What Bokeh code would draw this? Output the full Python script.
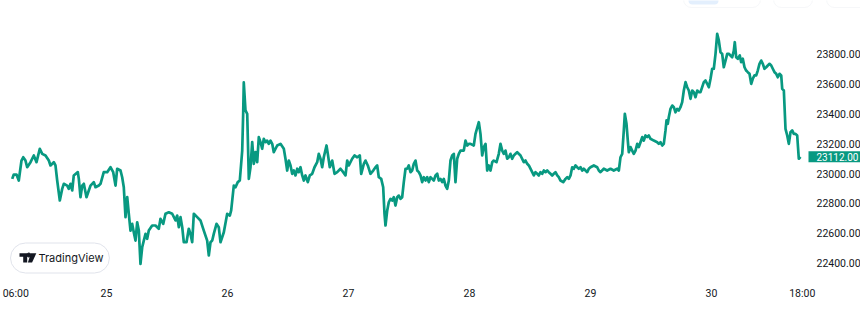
from bokeh.plotting import figure
from bokeh.models import Range1d, FixedTicker, PrintfTickFormatter, Label, BoxAnnotation
from bokeh.embed import file_html
from bokeh.resources import INLINE

# hours since 24 Jan 00:00
hours = [
5.30,5.61,6.15,6.60,7.14,7.48,7.93,8.27,8.93,9.58,
10.12,10.77,11.25,11.90,12.56,12.89,13.55,13.88,14.22,14.74,
15.21,15.53,16.20,16.52,16.86,17.20,17.51,18.31,18.51,18.84,
19.18,19.50,20.03,20.49,20.83,21.48,21.82,22.47,22.81,23.46,
24.14,24.79,25.33,25.79,26.12,26.78,27.11,27.43,27.77,28.11,
28.42,28.76,29.10,29.41,29.75,30.09,30.41,30.74,31.08,31.40,
31.74,32.07,32.39,33.06,33.72,34.37,34.71,35.25,35.70,36.36,
37.03,37.69,38.02,38.34,38.68,39.02,39.33,39.87,40.32,40.66,
41.00,41.32,41.99,42.64,43.30,43.97,44.29,44.63,44.97,45.28,
45.82,46.27,46.61,47.27,47.94,48.46,48.73,49.25,49.59,50.04,
50.44,50.92,51.11,51.23,51.57,51.91,52.23,52.56,52.90,53.22,
53.55,53.89,54.21,54.55,54.88,55.20,55.54,55.87,56.19,56.53,
56.87,57.18,57.86,58.51,59.17,59.50,59.84,60.16,60.50,60.83,
61.15,61.49,61.83,62.14,62.48,62.82,63.14,63.47,63.93,64.33,
64.80,65.26,65.79,66.11,66.45,66.78,67.10,67.64,67.90,68.29,
68.77,69.23,69.76,70.41,70.95,71.41,71.74,72.06,72.73,73.19,
73.73,74.24,74.52,75.04,75.37,75.83,76.36,76.90,77.36,77.69,
78.01,78.49,78.88,79.14,79.34,79.68,79.99,80.33,80.67,80.99,
81.32,81.66,81.98,82.32,82.65,82.97,83.31,83.64,83.96,84.30,
84.63,84.95,85.29,85.63,85.95,86.28,86.62,86.94,87.27,87.61,
87.93,88.27,88.60,88.92,89.26,89.60,89.91,90.25,90.59,90.90,
91.24,91.58,91.90,92.23,92.57,92.89,93.22,93.56,93.88,94.22,
94.87,95.21,95.55,95.86,96.20,96.85,97.19,97.85,98.18,98.52,
98.84,99.18,99.51,99.83,100.17,100.51,100.82,101.36,101.81,102.15,
102.49,102.81,103.14,103.48,103.80,104.13,104.47,104.79,105.13,105.46,
106.12,106.77,107.11,107.45,107.77,108.44,108.76,109.09,109.43,109.75,
110.08,110.42,110.74,111.08,111.41,111.73,112.07,112.40,112.72,113.06,
113.40,113.71,114.05,114.59,115.04,115.38,115.70,116.04,116.37,116.69,
117.03,117.36,117.68,118.02,118.36,118.67,119.01,119.35,119.67,120.00,
120.66,121.33,121.65,121.99,122.64,123.31,123.97,124.62,125.30,125.62,
125.95,126.29,126.61,126.81,127.14,127.40,127.60,127.94,128.27,128.59,
128.93,129.27,129.58,129.92,130.26,130.57,130.91,131.25,131.57,131.90,
132.56,133.23,133.55,133.89,134.22,134.54,134.88,135.08,135.33,135.53,
135.87,136.21,136.53,136.86,137.20,137.52,137.85,138.19,138.51,138.85,
139.18,139.50,139.84,140.18,140.49,140.83,141.17,141.48,141.82,142.48,
142.81,143.15,143.47,143.81,144.14,144.46,144.80,145.13,145.45,145.79,
146.12,146.44,146.78,147.12,147.43,147.77,148.11,148.43,148.62,148.90,
149.22,149.61,149.89,150.21,150.55,150.88,151.20,151.54,151.88,152.19,
152.53,152.87,153.18,153.52,153.86,154.18,154.51,154.85,155.17,155.51,
155.85,156.16,156.50,156.84,157.15,157.49,157.83,158.03,158.35,158.68,
159.02,159.34,159.67,160.01,160.33,160.67,161.00,161.32,161.65,
]

prices = [
22964,22993,22993,22953,23087,23109,23087,23042,23076,23121,
23076,23166,23132,23121,23087,23054,23076,23054,22953,22819,
22897,22931,22919,22897,22931,22886,22987,23009,22964,22841,
22919,22931,22841,22886,22919,22942,22908,22919,22931,23009,
23009,23042,23009,22919,23032,23020,22975,22908,22707,22841,
22730,22617,22662,22606,22550,22673,22617,22394,22505,22550,
22595,22562,22617,22651,22651,22629,22696,22662,22730,22740,
22730,22685,22718,22640,22707,22640,22539,22539,22629,22595,
22539,22730,22707,22685,22617,22550,22450,22539,22550,22595,
22662,22640,22539,22606,22730,22718,22752,22919,22908,22942,
22953,23154,23401,23611,23423,23401,22964,23042,23210,23065,
23143,23076,23244,23210,23166,23233,23210,23221,23199,23221,
23199,23143,23188,23199,23166,23099,23020,23087,23054,22998,
23020,22987,23032,23009,23042,22987,22953,22987,22942,22987,
22998,23042,23076,23132,23099,23042,23109,23188,23132,23042,
23087,22998,23009,23032,23009,22987,23087,23054,23099,23121,
23109,23121,22998,23065,23087,23054,22998,23020,23042,23054,
22975,22964,22908,22730,22651,22752,22807,22830,22819,22841,
22785,22841,22852,22830,22841,22942,23032,23032,23054,23009,
23020,23065,23087,23020,23009,22987,22942,22975,22953,22975,
22942,22975,22964,22953,22987,22998,22953,22964,22942,22964,
22919,22897,22953,23087,23121,23132,22942,23099,23132,23154,
23154,23221,23188,23199,23199,23188,23266,23344,23266,23121,
23177,23199,23020,23054,23020,23076,23087,23076,23132,23199,
23154,23132,23154,23099,23109,23132,23099,23121,23132,23143,
23121,23076,23087,23065,23054,23009,22987,23009,22998,22987,
23009,22998,23020,23009,23020,23009,22998,22987,22998,23009,
22987,22975,22953,22942,22964,22975,22964,22987,23042,23032,
23054,23042,23032,23042,23020,23032,23020,23009,23032,23042,
23054,23042,23020,23009,23032,23020,23032,23020,23032,23020,
23109,23132,23289,23401,23334,23221,23143,23177,23154,23132,
23154,23199,23177,23210,23244,23221,23255,23244,23255,23233,
23221,23210,23199,23210,23188,23199,23289,23356,23334,23378,
23434,23456,23445,23411,23434,23423,23445,23479,23557,23613,
23579,23557,23501,23557,23546,23512,23557,23546,23546,23613,
23624,23602,23579,23636,23703,23703,23803,23937,23893,23814,
23803,23713,23758,23803,23803,23792,23780,23825,23881,23780,
23770,23792,23747,23770,23713,23691,23680,23669,23602,23636,
23658,23658,23691,23736,23758,23736,23703,23713,23725,23736,
23725,23703,23680,23669,23646,23669,23658,23568,23557,23300,
23255,23199,23277,23289,23266,23266,23255,23099,23112,
]

last_price = 23112
x_tick_pos = [6, 24, 48, 72, 96, 120, 144, 162]
x_tick_labels = ["06:00", "25", "26", "27", "28", "29", "30", "18:00"]
y_ticks = [22400, 22600, 22800, 23000, 23200, 23400, 23600, 23800]

FW, FH = 860, 280
X0 = 2.975
X1 = X0 + FW * 0.19835
Y0, Y1 = 22282, 24161

def px(xp):
    return X0 + xp * (X1 - X0) / FW

def py(yp):
    return Y1 - yp * (Y1 - Y0) / FH

GREEN = "#089981"
TXT = "#131722"
FONT = "Roboto"

p = figure(frame_width=FW, frame_height=FH, output_backend="svg", toolbar_location=None,
           x_range=Range1d(X0, X1), y_range=Range1d(Y0, Y1),
           y_axis_location="right",
           min_border_left=0, min_border_top=0, min_border_right=0, min_border_bottom=33)
p.outline_line_color = None
p.background_fill_color = "white"
p.border_fill_color = "white"
p.grid.visible = False

for ax in (p.xaxis[0], p.yaxis[0]):
    ax.axis_line_color = None
    ax.major_tick_line_color = None
    ax.minor_tick_line_color = None
    ax.major_tick_out = 0
    ax.major_tick_in = 0
    ax.major_label_text_color = TXT
    ax.major_label_text_font = FONT
    ax.major_label_text_font_size = "10.5px"

p.xaxis.ticker = FixedTicker(ticks=x_tick_pos)
p.xaxis.major_label_overrides = {t: l for t, l in zip(x_tick_pos, x_tick_labels)}
p.xaxis.major_label_standoff = 6
p.yaxis.ticker = FixedTicker(ticks=y_ticks)
p.yaxis.formatter = PrintfTickFormatter(format="%.2f")
p.yaxis.major_label_standoff = -44

p.line(hours, prices, line_color=GREEN, line_width=2.7, line_join="round")

# last price tag
p.add_layout(Label(x=px(808), y=last_price, text=f"{last_price:.2f}",
                   text_color="white", text_font=FONT, text_font_size="10px",
                   text_align="left", text_baseline="middle",
                   background_fill_color=GREEN,
                   padding=dict(left=8, right=6, top=2, bottom=1)))

# TradingView badge
p.add_layout(Label(x=px(10), y=py(257.5), text="TradingView",
                   text_color=TXT, text_font="Inter", text_font_size="11px",
                   text_align="left", text_baseline="middle",
                   background_fill_color="white", border_line_color="#e0e3eb",
                   border_line_width=1, border_radius=15,
                   padding=dict(left=28, right=6, top=8, bottom=8)))
logo = p.patches(
    xs=[[px(19), px(26.7), px(26.7), px(22.7), px(22.7), px(19)],
        [px(30.3), px(35.8), px(31.6), px(27.4)]],
    ys=[[py(252.8), py(252.8), py(262), py(262), py(256.2), py(256.2)],
        [py(252.8), py(252.8), py(262), py(262)]],
    fill_color=TXT, line_color=None)
logo.level = "overlay"
dot = p.scatter([px(28.3)], [py(254.5)], size=4, color=TXT)
dot.level = "overlay"

# top toolbar buttons (cut off)
for l, r in [(683, 760), (773, 812), (826, 875)]:
    p.add_layout(BoxAnnotation(left=px(l), right=px(r), top=py(-30), bottom=py(7),
                               fill_color="white", fill_alpha=1, line_color="#e0e3eb",
                               line_width=1, border_radius=8))
p.add_layout(BoxAnnotation(left=px(688), right=px(718), top=py(-30), bottom=py(4),
                           fill_color="#e3effd", fill_alpha=1, line_color=None,
                           border_radius=4))

open("out.html", "w").write(file_html(p, INLINE))
